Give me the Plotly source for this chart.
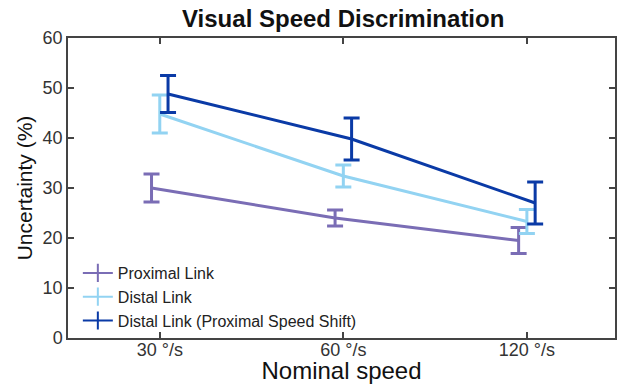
import plotly.graph_objects as go

categories = ["30 °/s", "60 °/s", "120 °/s"]
series_names = ["Proximal Link", "Distal Link", "Distal Link (Proximal Speed Shift)"]
proximal = [30.0, 24.0, 19.5]
proximal_err = [2.8, 1.6, 2.6]
distal = [44.8, 32.4, 23.3]
distal_err = [3.8, 2.2, 2.4]
shift = [48.8, 39.8, 27.0]
shift_err = [3.7, 4.2, 4.2]

colors = ["#7a6db5", "#92d3f2", "#0a3aa6"]
offsets = [-0.045, 0.0, 0.045]
FONT = "Liberation Sans, Arial, sans-serif"

fig = go.Figure()
for name, vals, errs, col, off in zip(series_names, [proximal, distal, shift],
                                       [proximal_err, distal_err, shift_err], colors, offsets):
    xs = [i + 1 + off for i in range(len(categories))]
    fig.add_trace(go.Scatter(
        x=xs, y=vals, name=name, mode="lines", showlegend=False, legendgroup=name,
        line=dict(color=col, width=3),
        error_y=dict(type="data", array=errs, visible=True, color=col, thickness=3, width=8),
    ))
# legend entries (line with a vertical error-bar glyph)
for name, col in zip(series_names, colors):
    fig.add_trace(go.Scatter(
        x=[None], y=[None], name=name, mode="lines+markers", legendgroup=name,
        line=dict(color=col, width=2),
        marker=dict(symbol="line-ns", size=13, line=dict(color=col, width=2)),
    ))

axis_common = dict(showline=True, linecolor="#444", linewidth=1.5, mirror="ticks",
                   ticks="inside", ticklen=6, tickcolor="#444", tickwidth=1.5,
                   showgrid=False, zeroline=False, automargin=False,
                   tickfont=dict(family=FONT, size=18, color="#333"))

fig.update_layout(
    width=624, height=384,
    margin=dict(l=68, r=9, t=38, b=46),
    paper_bgcolor="white", plot_bgcolor="white",
    title=dict(text="<b>Visual Speed Discrimination</b>", x=0.55, xanchor="center",
               y=0.951, yanchor="middle",
               font=dict(family=FONT, size=24, color="#111")),
    xaxis=dict(range=[0.5, 3.48], tickvals=[1, 2, 3], ticktext=categories,
               title=dict(text="Nominal speed", standoff=4,
                          font=dict(family=FONT, size=24, color="#111")),
               **axis_common),
    yaxis=dict(range=[0, 60], tickvals=[0, 10, 20, 30, 40, 50, 60],
               title=dict(text="Uncertainty (%)", standoff=4,
                          font=dict(family=FONT, size=21, color="#111")),
               **axis_common),
    legend=dict(x=0.018, y=0.0, xanchor="left", yanchor="bottom",
                bgcolor="rgba(0,0,0,0)", tracegroupgap=0, itemwidth=30,
                font=dict(family=FONT, size=16, color="#222")),
    showlegend=True,
)
try:
    fig.update_xaxes(ticklabelstandoff=-5)
except ValueError:
    pass

fig.write_html("out.html", config={"displayModeBar": False},
               post_script="document.body.style.margin='0';")
